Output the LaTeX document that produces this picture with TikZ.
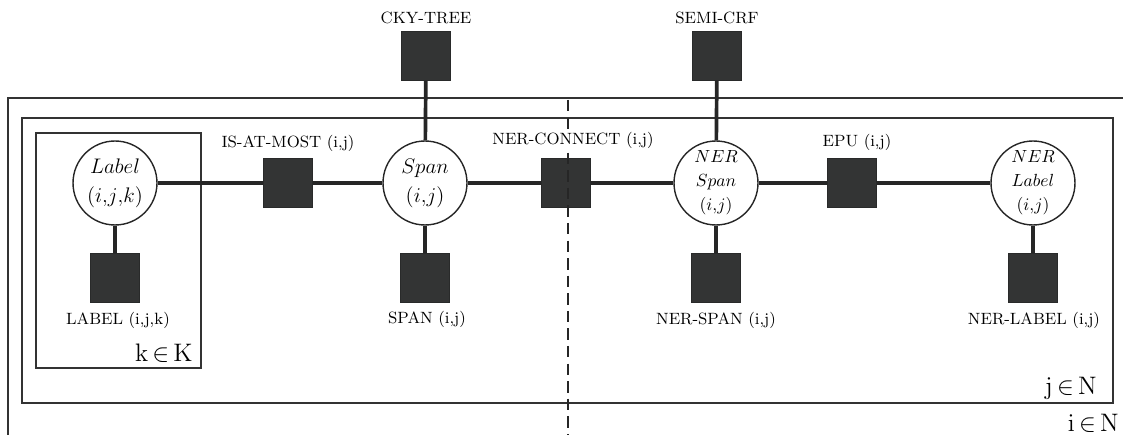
\documentclass[tikz,border=0pt]{standalone}
\usepackage{amsmath}
\usepackage{amssymb}
\usetikzlibrary{calc}

\definecolor{factorgray}{RGB}{51,52,52}

\tikzset{
    var/.style={draw=black!85,circle,line width=0.8pt,fill=white,minimum size=1.68cm,inner sep=0pt,align=center},
    factor/.style={draw=factorgray!80!black,fill=factorgray,minimum size=0.98cm,inner sep=0pt},
    edge/.style={line width=2.1pt,draw=black!85},
    plate/.style={draw=black!80,line width=0.8pt},
    flabel/.style={font=\fontsize{9.3}{11}\selectfont,inner sep=1pt},
    platelabel/.style={anchor=base east,font=\Large,inner sep=0pt},
}

\begin{document}
\begin{tikzpicture}[x=0.02cm,y=-0.02cm]
    \useasboundingbox (0,0) rectangle (1123,435);

    % plates
    \draw[plate] (8,435) -- (8,98) -- (1123,98);
    \draw[plate] (22,118) rectangle (1113,403);
    \draw[plate] (36,133) rectangle (201,368);

    \node[platelabel] (plateK) at (193,362) {$\mathrm{k}\,{\in}\,\mathrm{K}$};
    \node[platelabel] (plateJ) at (1097,395) {$\mathrm{j}\,{\in}\,\mathrm{N}$};
    \node[platelabel] (plateI) at (1119,432) {$\mathrm{i}\,{\in}\,\mathrm{N}$};

    % variables
    \node[var,font=\fontsize{12}{16.5}\selectfont] (label) at (115,183) {$Label$\\$(i{,}j{,}k)$};
    \node[var,font=\fontsize{12}{16.5}\selectfont] (span) at (425,183) {$Span$\\$(i{,}j)$};
    \node[var,font=\fontsize{10}{13.6}\selectfont] (nerspan) at (716,183) {$NER$\\$Span$\\$(i{,}j)$};
    \node[var,font=\fontsize{10}{13.6}\selectfont] (nerlabel) at (1033,183) {$NER$\\$Label$\\$(i{,}j)$};

    % factors
    \node[factor] (fLabel) at (115,278) {};
    \node[factor] (fIsAtMost) at (288,183) {};
    \node[factor] (fCky) at (426,56) {};
    \node[factor] (fSpan) at (425,278) {};
    \node[factor] (fConnect) at (566,183) {};
    \node[factor] (fSemi) at (717,56) {};
    \node[factor] (fNerSpan) at (716,278) {};
    \node[factor] (fEpu) at (852,183) {};
    \node[factor] (fNerLabel) at (1033,278) {};

    % edges
    \draw[edge] (label) -- (fIsAtMost) -- (span) -- (fConnect) -- (nerspan) -- (fEpu) -- (nerlabel);
    \draw[edge] (label) -- (fLabel);
    \draw[edge] (span) -- (fSpan);
    \draw[edge] (span) -- (fCky);
    \draw[edge] (nerspan) -- (fNerSpan);
    \draw[edge] (nerspan) -- (fSemi);
    \draw[edge] (nerlabel) -- (fNerLabel);

    % split between the two halves
    \coordinate (cutTop) at (568,100);
    \coordinate (cutBot) at (568,435);
    \draw[black!85,line width=0.8pt,dash pattern=on 6.5pt off 3.5pt] (cutTop) -- (cutBot);

    % factor names
    \node[flabel,anchor=south] (tCky) at (426,26) {CKY-TREE};
    \node[flabel,anchor=south] (tSemi) at (717,26) {SEMI-CRF};
    \node[flabel,anchor=south] (tIsAtMost) at (288,154) {IS-AT-MOST (i,j)};
    \node[flabel,anchor=south,fill=white] (tConnect) at (573,151) {NER-CONNECT (i,j)};
    \node[flabel,anchor=south] (tEpu) at (857,153) {EPU (i,j)};
    \node[flabel,anchor=north] (tLabel) at (118,310) {LABEL (i,j,k)};
    \node[flabel,anchor=north] (tSpan) at (427,309) {SPAN (i,j)};
    \node[flabel,anchor=north] (tNerSpan) at (716,310) {NER-SPAN (i,j)};
    \node[flabel,anchor=north] (tNerLabel) at (1034,310) {NER-LABEL (i,j)};
\end{tikzpicture}
\end{document}
